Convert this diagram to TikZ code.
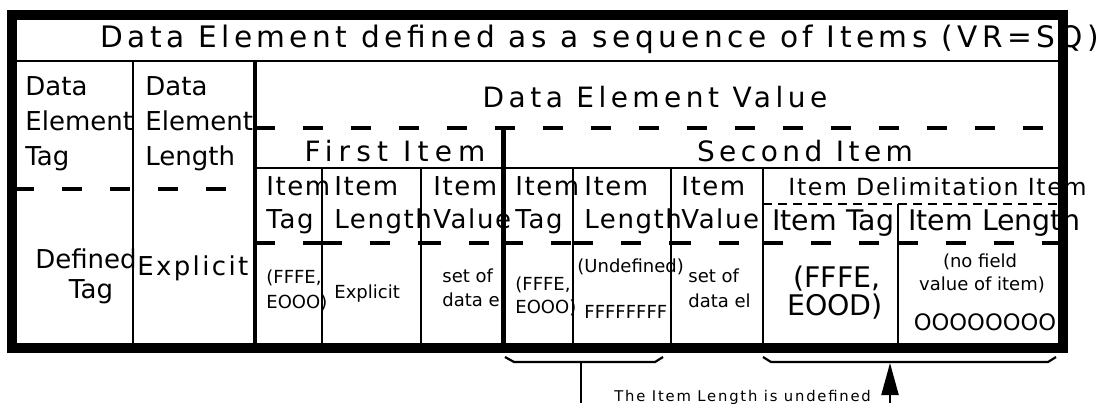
\documentclass[tikz,border=0pt]{standalone}
\usepackage{fontspec}
\setmainfont{DejaVu Sans}
\usetikzlibrary{arrows.meta}
\tikzset{
txt/.style={inner sep=0pt, anchor=base west},
titletext/.style={txt, font=\fontsize{14.8}{17}\selectfont\addfontfeatures{LetterSpace=15}},
hdrtext/.style={txt, font=\fontsize{13}{15}\selectfont},
spacedtext/.style={txt, font=\fontsize{13}{15}\selectfont\addfontfeatures{LetterSpace=9}},
bigtext/.style={txt, font=\fontsize{14}{16}\selectfont\addfontfeatures{LetterSpace=16}},
firsttext/.style={txt, font=\fontsize{14}{16}\selectfont\addfontfeatures{LetterSpace=22}},
itemtext/.style={txt, font=\fontsize{13}{15}\selectfont\addfontfeatures{LetterSpace=6}},
delimtext/.style={txt, font=\fontsize{11.8}{14}\selectfont\addfontfeatures{LetterSpace=7}},
celltext/.style={txt, font=\fontsize{14.2}{16}\selectfont},
smalltext/.style={txt, font=\fontsize{9}{11}\selectfont},
zerotext/.style={txt, font=\fontsize{11.3}{13}\selectfont},
notetext/.style={txt, font=\fontsize{7.4}{8}\selectfont\addfontfeatures{LetterSpace=12}},
gridline/.style={line width=1.1pt},
midline/.style={line width=1.75pt},
thickline/.style={line width=2.5pt},
frameline/.style={line width=5pt},
dashline/.style={line width=1.7pt, dash pattern=on 10pt off 14pt},
dotline/.style={line width=1pt, dash pattern=on 4.5pt off 3pt}
}

\begin{document}
\begin{tikzpicture}[x=0.5pt,y=-0.5pt]
	\useasboundingbox (0,0) rectangle (1097,403);
	\node[titletext] (title) at (100,47) {Data Element defined as a sequence of Items (VR=SQ)};
	\foreach \t [count=\i] in {Data,Element,Tag}
		\node[hdrtext] (tag\i) at (25,60+35*\i) {\t};
	\foreach \t [count=\i] in {Data,Element,Length}
		\node[hdrtext] (len\i) at (145,60+35*\i) {\t};
	\node[hdrtext, anchor=base] (deftag1) at (86,268) {Defined};
	\node[hdrtext, anchor=base] (deftag2) at (91,298) {Tag};
	\node[spacedtext] (explen) at (137,275) {Explicit};
	\node[bigtext, anchor=base] (value) at (655,107) {Data Element Value};
	\node[firsttext, anchor=base] (first) at (395,161) {First Item};
	\node[bigtext, anchor=base] (second) at (805,161) {Second Item};
	\foreach \x/\t [count=\i] in {266/Tag,334/Length,433/Value,515/Tag,584/Length,681/Value}{
		\node[itemtext] (itemhd\i) at (\x,195) {Item};
		\node[itemtext] (itemsub\i) at (\x,228) {\t};
	}
	\node[smalltext] (tagv1) at (266,283) {(FFFE,};
	\node[smalltext] (tagv2) at (266,308) {EOOO)};
	\node[smalltext] (lenv1) at (334,298) {Explicit};
	\node[smalltext] (valv1) at (442,282) {set of};
	\node[smalltext] (valv2) at (442,306) {data el};
	\node[smalltext] (tagw1) at (515,290) {(FFFE,};
	\node[smalltext] (tagw2) at (515,313) {EOOO)};
	\node[smalltext] (lenw1) at (577,272) {(Undefined)};
	\node[smalltext] (lenw2) at (584,318) {FFFFFFFF};
	\node[smalltext] (valw1) at (688,282) {set of};
	\node[smalltext] (valw2) at (688,307) {data el};
	\node[delimtext] (delim) at (788,195) {Item Delimitation Item};
	\node[celltext] (dtag) at (772,230) {Item Tag};
	\node[celltext] (dlen) at (908,230) {Item Length};
	\node[celltext, anchor=base] (dtagv1) at (837,287) {(FFFE,};
	\node[celltext, anchor=base] (dtagv2) at (835,315) {EOOD)};
	\node[smalltext, anchor=base] (dlenv1) at (980,267) {(no field};
	\node[smalltext, anchor=base] (dlenv2) at (982,290) {value of item)};
	\node[zerotext, anchor=base] (dlenv3) at (985,330) {OOOOOOOO};
	\node[notetext] (note) at (614,401) {The Item Length is undefined};
	\draw[gridline] (16,61) -- (1058,61);
	\draw[gridline] (133,61) -- (133,343);
	\draw[midline] (255,61) -- (255,343);
	\draw[dashline] (255,128) -- (1058,128);
	\draw[dashline] (14,189) -- (255,189);
	\draw[thickline] (503,128) -- (503,343);
	\draw[gridline] (255,168) -- (1058,168);
	\foreach \x in {322,421,573,671,763}
		\draw[gridline] (\x,168) -- (\x,343);
	\draw[dotline] (763,204) -- (1058,204);
	\draw[gridline] (898,204) -- (898,343);
	\foreach \a/\b in {255/322,322/421,421/503,503/573,573/671,671/763,763/898,898/1058}
		\draw[dashline] (\a,243) -- (\b,243);
	\draw[frameline] (11.5,15) rectangle (1063,348);
	\draw[gridline] (505,357) -- (514,362) -- (655,362) -- (663,357);
	\draw[gridline] (763,357) -- (771,362) -- (1048,362) -- (1056,357);
	\coordinate (lbrace) at (581,362);
	\coordinate (lfoot) at (581,403);
	\coordinate (rbrace) at (890,363);
	\coordinate (rfoot) at (890,403);
	\draw[gridline] (lbrace) -- (lfoot);
	\draw[gridline, -{Triangle[length=16pt,width=8.5pt]}] (rfoot) -- (rbrace);
\end{tikzpicture}
\end{document}
